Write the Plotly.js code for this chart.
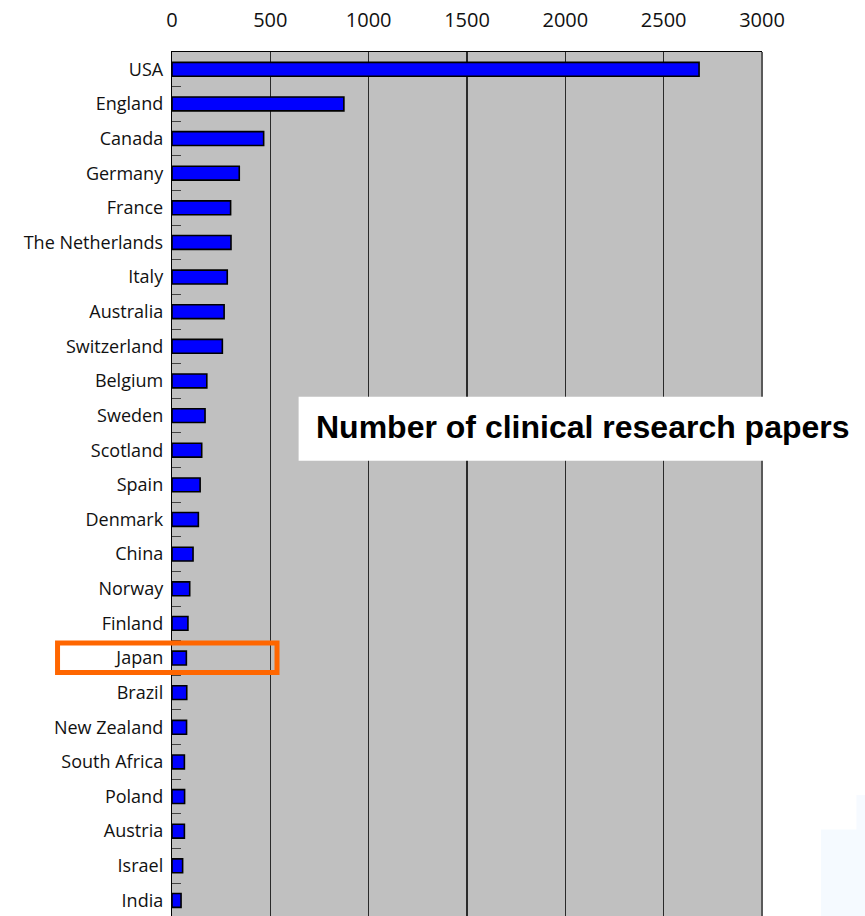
<!DOCTYPE html>
<html>
<head>
<meta charset="utf-8">
<script src="https://cdn.plot.ly/plotly-3.0.1.min.js"></script>
<style>
  html, body { margin: 0; padding: 0; background: #ffffff; }
  #chart { width: 865px; height: 916px; }
</style>
</head>
<body>
<div id="chart"></div>
<script>
// Countries, top to bottom
const countries = [
  "USA", "England", "Canada", "Germany", "France", "The Netherlands", "Italy",
  "Australia", "Switzerland", "Belgium", "Sweden", "Scotland", "Spain",
  "Denmark", "China", "Norway", "Finland", "Japan", "Brazil", "New Zealand",
  "South Africa", "Poland", "Austria", "Israel", "India"
];

// Number of clinical research papers per country
const papers = [
  2680, 874, 466, 342, 298, 300, 281,
  265, 256, 177, 168, 151, 143,
  134, 107, 90, 81, 73, 75, 74,
  63, 64, 63, 54, 46
];

// Axis ticks along the top
const tickValues = [0, 500, 1000, 1500, 2000, 2500, 3000];
const tickLabels = ["0", "500", "1000", "1500", "2000", "2500", "3000"];

const chartTitle = "Number of clinical research papers";
const highlighted = "Japan";

const hiIndex = countries.indexOf(highlighted);
const labelFont = "Open Sans, Noto Sans, sans-serif";

const trace = {
  type: "bar",
  orientation: "h",
  x: papers,
  y: countries,
  marker: { color: "#0000ff", line: { color: "#000000", width: 1.6 } },
  hoverinfo: "x+y"
};

const layout = {
  width: 865,
  height: 916,
  margin: { l: 172, r: 103, t: 52, b: 0 },
  paper_bgcolor: "#ffffff",
  plot_bgcolor: "#c0c0c0",
  bargap: 0.6,
  showlegend: false,
  font: { family: labelFont, color: "#111111" },
  xaxis: {
    side: "top",
    range: [0, 3000],
    tickvals: tickValues,
    ticktext: tickLabels,
    ticks: "",
    ticklabelstandoff: 16,
    tickfont: { family: labelFont, size: 20, color: "#111111" },
    showgrid: true,
    gridcolor: "#2a2a2a",
    gridwidth: 1.2,
    zeroline: false,
    showline: true,
    linecolor: "#000000",
    linewidth: 1.5,
    fixedrange: true
  },
  yaxis: {
    type: "category",
    autorange: false,
    range: [24.45, -0.5],
    tickson: "boundaries",
    ticks: "inside",
    ticklen: 9,
    tickwidth: 1,
    tickcolor: "#444444",
    ticklabelstandoff: 4,
    tickfont: { family: labelFont, size: 18, color: "#111111" },
    showgrid: false,
    zeroline: false,
    showline: true,
    linecolor: "#000000",
    linewidth: 1.2,
    fixedrange: true
  },
  shapes: [
    // right edge of the plotting frame
    { type: "line", xref: "paper", yref: "paper", x0: 1, x1: 1, y0: 0, y1: 1,
      line: { color: "#5a5a5a", width: 2 } },
    // white panel behind the caption
    { type: "rect", xref: "paper", yref: "paper", layer: "above",
      x0: 0.2146, x1: 1.2, y0: 0.527, y1: 0.601,
      fillcolor: "#ffffff", line: { width: 0 } },
    // orange frame around the highlighted country
    { type: "rect", xref: "paper", yref: "y", layer: "above",
      x0: -0.194, x1: 0.178, y0: hiIndex - 0.43, y1: hiIndex + 0.42,
      fillcolor: "rgba(0,0,0,0)", line: { color: "#ff6600", width: 5 } },
    // faint pale-blue wash in the lower right corner
    { type: "rect", xref: "paper", yref: "paper", layer: "above",
      x0: 1.1, x1: 1.2, y0: 0, y1: 0.1,
      fillcolor: "rgba(232,243,255,0.45)", line: { width: 0 } },
    { type: "rect", xref: "paper", yref: "paper", layer: "above",
      x0: 1.16, x1: 1.2, y0: 0.1, y1: 0.14,
      fillcolor: "rgba(232,243,255,0.4)", line: { width: 0 } }
  ],
  annotations: [
    { text: "<b>" + chartTitle + "</b>", xref: "paper", yref: "paper",
      x: 0.2405, y: 0.566, xanchor: "left", yanchor: "middle", showarrow: false,
      font: { family: "Liberation Sans, Arial, sans-serif", size: 32, color: "#000000" } }
  ]
};

Plotly.newPlot("chart", [trace], layout, { displayModeBar: false, staticPlot: true });
</script>
</body>
</html>
